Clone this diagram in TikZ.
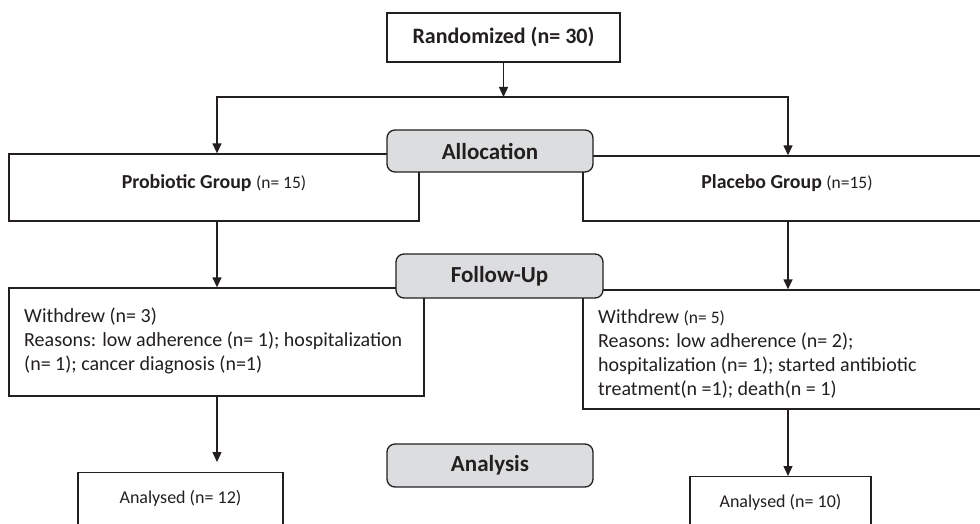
\documentclass[tikz,border=0pt]{standalone}
\usepackage{fontspec}
\setmainfont{Carlito}
\usetikzlibrary{arrows.meta}
\definecolor{ink}{RGB}{35,31,32}
\definecolor{boxgray}{RGB}{220,221,223}
\begin{document}
\begin{tikzpicture}[x=1pt,y=-1pt,
  box/.style={draw=ink, line width=1.3pt, inner sep=0pt, text=ink},
  phase/.style={box, fill=boxgray, rounded corners=8pt, font=\fontsize{23}{28}\selectfont\bfseries},
  txt/.style={inner sep=0pt, text=ink},
  body/.style={txt, align=left, font=\fontsize{20}{24}\selectfont},
  small/.style={txt, font=\fontsize{18}{22}\selectfont},
  arr/.style={draw=ink, line width=1.3pt, -{Triangle[width=9pt,length=10pt]}},
  ln/.style={draw=ink, line width=1.3pt}]
\clip (0,0) rectangle (980,524);
\fill[white] (0,0) rectangle (980,524);
% columns
\coordinate (colL) at (217,0);
\coordinate (colR) at (788,0);
\coordinate (split) at (503.5,97);
\coordinate (stopL) at (217,462);
% top
\node[box, minimum width=233pt, minimum height=49pt, font=\fontsize{22}{26}\selectfont\bfseries] (rand) at (503.5,37.5) {Randomized (n= 30)};
% group boxes
\node[box, minimum width=410pt, minimum height=67pt] (prob) at (214,187.5) {};
\node[box, minimum width=408pt, minimum height=65pt] (pla) at (787,188.5) {};
\node[txt, anchor=base] (probt) at (214,188) {\fontsize{19.8}{24}\selectfont\bfseries Probiotic Group \fontsize{17.5}{20}\selectfont\mdseries (n= 15)};
\node[txt, anchor=base] (plat) at (787,188) {\fontsize{19.8}{24}\selectfont\bfseries Placebo Group \fontsize{17.5}{20}\selectfont\mdseries (n=15)};
% withdrew boxes
\node[box, minimum width=415pt, minimum height=108pt] (wl) at (216.5,342) {};
\node[box, minimum width=408pt, minimum height=119pt] (wr) at (787,349.5) {};
\node[body, anchor=base west] (wlt) at (24,370) {Withdrew (n= 3)\\Reasons: low adherence (n= 1); hospitalization\\(n= 1); cancer diagnosis (n=1)};
\node[body, anchor=base west] (wrt) at (598,395) {Withdrew {\fontsize{17.5}{24}\selectfont(n= 5)}\\Reasons: low adherence (n= 2);\\hospitalization (n= 1); started antibiotic\\treatment(n =1); death(n = 1)};
% analysed boxes
\node[box, minimum width=205pt, minimum height=60pt, anchor=north] (al) at (180.5,472) {};
\node[box, minimum width=181pt, minimum height=60pt, anchor=north] (ar) at (780.5,476) {};
\node[small, anchor=base] (alt) at (180.5,503) {Analysed (n= 12)};
\node[small, anchor=base] (art) at (780.5,507) {Analysed (n= 10)};
% connectors
\draw[arr] (rand.south) -- (split);
\draw[arr] (split) -| (prob.north -| colL);
\draw[arr] (split) -| (pla.north -| colR);
\draw[arr] (prob.south -| colL) -- (wl.north -| colL);
\draw[arr] (pla.south -| colR) -- (wr.north -| colR);
\draw[arr] (wl.south -| colL) -- (stopL);
\draw[arr] (wr.south -| colR) -- (ar.north -| colR);
% phase labels
\node[phase, minimum width=206pt, minimum height=42pt] (alloc) at (490,151) {Allocation};
\node[phase, minimum width=207pt, minimum height=44pt] (follow) at (499.5,276) {Follow-Up};
\node[phase, minimum width=206pt, minimum height=43pt] (analysis) at (490,465.5) {Analysis};
\end{tikzpicture}
\end{document}
